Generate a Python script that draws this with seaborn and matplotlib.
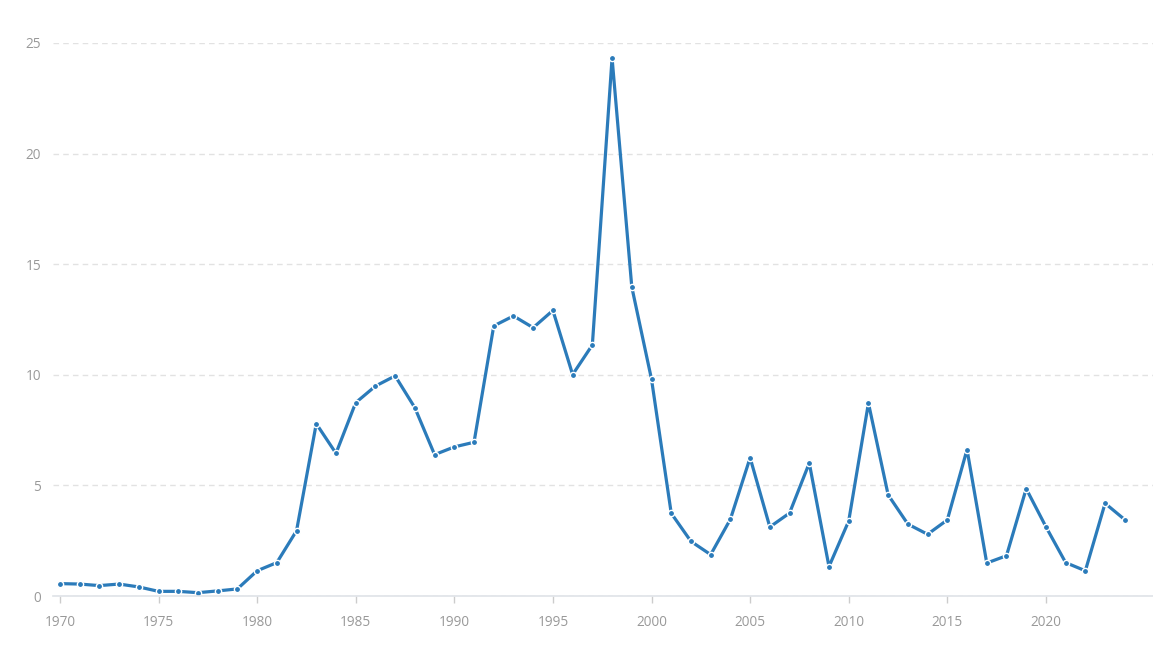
import matplotlib.pyplot as plt
import pandas as pd
import seaborn as sns

years = list(range(1970, 2025))
values = [
    0.56, 0.54, 0.47, 0.54, 0.41, 0.21, 0.21, 0.15, 0.23, 0.32,
    1.14, 1.51, 2.95, 7.79, 6.45, 8.74, 9.49, 9.95, 8.51, 6.39,
    6.74, 6.95, 12.21, 12.66, 12.13, 12.91, 10.01, 11.35, 24.32, 13.97,
    9.80, 3.74, 2.47, 1.87, 3.47, 6.25, 3.12, 3.75, 6.01, 1.33,
    3.39, 8.72, 4.57, 3.25, 2.79, 3.44, 6.62, 1.49, 1.82, 4.85,
    3.13, 1.51, 1.14, 4.19, 3.45,
]
x_ticks = [1970, 1975, 1980, 1985, 1990, 1995, 2000, 2005, 2010, 2015, 2020]
y_ticks = [0, 5, 10, 15, 20, 25]

df = pd.DataFrame({'year': years, 'value': values})

sns.set_style('white')
plt.rcParams['font.family'] = ['Open Sans', 'DejaVu Sans']

fig = plt.figure(figsize=(11.53, 6.57), dpi=100)
ax = fig.add_axes([53 / 1153, 61 / 657, 1100 / 1153, 553 / 657])

line_color = '#2b7bba'
sns.lineplot(data=df, x='year', y='value', ax=ax, color=line_color,
             linewidth=2.3, marker='o', markersize=4.5,
             markeredgecolor='white', markeredgewidth=1.0, clip_on=False)

ax.set_xlim(1969.65, 2025.43)
ax.set_ylim(0, 25)
ax.set_xticks(x_ticks)
ax.set_yticks(y_ticks)
ax.set_xlabel('')
ax.set_ylabel('')

for s in ['top', 'right', 'left']:
    ax.spines[s].set_visible(False)
ax.spines['bottom'].set_color('#dfe3e8')
ax.spines['bottom'].set_linewidth(1.2)

ax.yaxis.grid(True, color='#e2e2e2', linestyle=(0, (4, 3)), linewidth=1.0)
ax.xaxis.grid(False)
ax.set_axisbelow(True)

ax.tick_params(axis='x', colors='#cccccc', length=5, width=1, pad=9,
               direction='out', bottom=True, labelcolor='#999999', labelsize=9.8)
ax.tick_params(axis='y', length=0, pad=8.5, labelcolor='#999999', labelsize=9.8)

fig.savefig('out.png', dpi=100)
